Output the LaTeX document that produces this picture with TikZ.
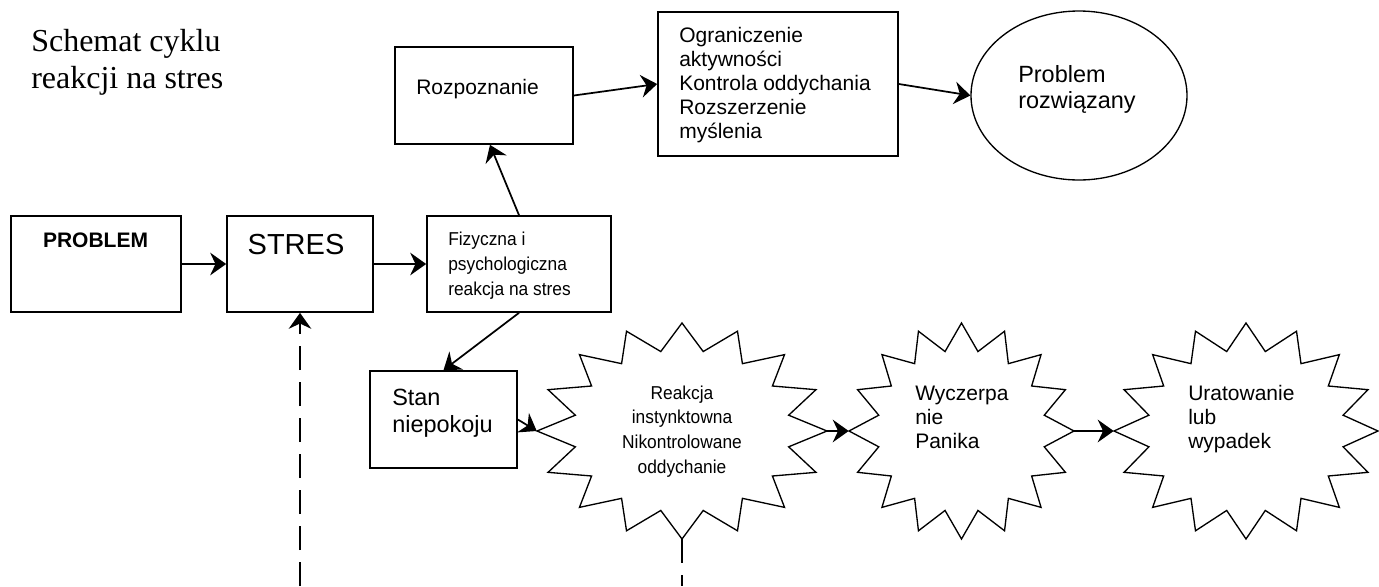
\documentclass[tikz,border=0pt]{standalone}
\usepackage{fontspec}
\setmainfont{Liberation Sans}
\newfontfamily\tytulowa{Liberation Serif}
\newfontfamily\waska[FakeStretch=0.93]{Liberation Sans}
\usepackage{tikz}
\usetikzlibrary{positioning,arrows.meta,shapes.geometric}
\tikzset{
pudlo/.style={draw, rectangle, line width=1.25pt, inner sep=0pt},
gwiazda/.style={inner sep=0pt, minimum height=162pt},
napis/.style={anchor=base west, inner sep=0pt, align=left, font=\fontsize{15.75}{18}\selectfont},
strzalka/.style={line width=1.3pt, -{Stealth[length=12pt,width=17pt,inset=4pt]}},
kreski/.style={line width=1.3pt, dash pattern=on 18pt off 9pt},
przerywana/.style={kreski, strzalka},
}

\begin{document}
\begin{tikzpicture}[x=0.75pt, y=-0.75pt]
\useasboundingbox (0,0) rectangle (1379,586);
% tytul (punkt bazowy = ostatnia linia)
\node[napis, font=\tytulowa\fontsize{24}{27.75}\selectfont] (tytul) at (31,88) {Schemat cyklu\\reakcji na stres};

% prostokaty
\node[pudlo, minimum width=127.5pt, minimum height=72pt] (problem) at (96,264) {};
\node[pudlo, minimum width=109.5pt, minimum height=72pt] (stres) at (300,264) {};
\node[pudlo, minimum width=138pt, minimum height=72pt] (fizyczna) at (519,264) {};
\node[pudlo, minimum width=133.5pt, minimum height=72.75pt] (rozpoznanie) at (484,95.5) {};
\node[pudlo, minimum width=180pt, minimum height=108pt] (ograniczenie) at (778,84) {};
\node[pudlo, minimum width=110.25pt, minimum height=72.75pt] (stan) at (443.5,419.5) {};
\node[draw, ellipse, line width=1pt, inner sep=0pt, minimum width=162pt, minimum height=126.75pt] (rozwiazany) at (1079,95.5) {};

% gwiazdy
\node[gwiazda, minimum width=217.5pt] (reakcja) at (682,431) {};
\node[gwiazda, minimum width=168.75pt] (wyczerpanie) at (961.5,431) {};
\node[gwiazda, minimum width=198pt] (uratowanie) at (1246,431) {};
\foreach \n/\rx in {reakcja/145, wyczerpanie/112.5, uratowanie/132}
  \draw[line width=1pt, shift={(\n)}] plot[variable=\k, samples at={0,...,31}]
    ({(1-0.25*mod(\k,2))*\rx*cos(\k*11.25)}, {(1-0.25*mod(\k,2))*108*sin(\k*11.25)}) -- cycle;

% teksty
\node[napis, anchor=base, font=\bfseries\fontsize{15.75}{18}\selectfont] (problem-t) at (95.5,247) {PROBLEM};
\node[napis, anchor=base, font=\fontsize{21.75}{26}\selectfont] (stres-t) at (296,254) {STRES};
\node[napis, font=\waska\fontsize{14}{18.75}\selectfont] (fizyczna-t) at (448,295) {Fizyczna i\\psychologiczna\\reakcja na stres};
\node[napis] (rozpoznanie-t) at (416,94) {Rozpoznanie};
\node[napis] (ograniczenie-t) at (679,138) {Ograniczenie\\aktywności\\Kontrola oddychania\\Rozszerzenie\\myślenia};
\node[napis, font=\fontsize{17.6}{19.5}\selectfont] (rozwiazany-t) at (1018,108) {Problem\\rozwiązany};
\node[napis, font=\fontsize{17.6}{20.25}\selectfont] (stan-t) at (392,432) {Stan\\niepokoju};
\node[napis, anchor=base, align=center, font=\waska\fontsize{14}{18.5}\selectfont] (reakcja-t) at (682,473) {Reakcja\\instynktowna\\Nikontrolowane\\oddychanie};
\node[napis] (wyczerpanie-t) at (915,448) {Wyczerpa\\nie\\Panika};
\node[napis] (uratowanie-t) at (1188,448) {Uratowanie\\lub\\wypadek};

% strzalki
\coordinate (dol-stres) at (300,586);
\coordinate (dol-reakcja) at (682,586);
\draw[strzalka] (problem.east) -- (stres.west);
\draw[strzalka] (stres.east) -- (fizyczna.west);
\draw[strzalka] (fizyczna.north) -- ([xshift=4.5pt]rozpoznanie.south);
\draw[strzalka] (rozpoznanie.east) -- (ograniczenie.west);
\draw[strzalka] (ograniczenie.east) -- (rozwiazany.west);
\draw[strzalka] (fizyczna.south) -- (stan.north);
\draw[strzalka] (stan.east) -- (reakcja.west);
\draw[strzalka] (reakcja.east) -- (wyczerpanie.west);
\draw[strzalka] (wyczerpanie.east) -- (uratowanie.west);
\draw[przerywana] (dol-stres) -- (stres.south);
\draw[kreski] (reakcja.south) -- (dol-reakcja);
\end{tikzpicture}
\end{document}
